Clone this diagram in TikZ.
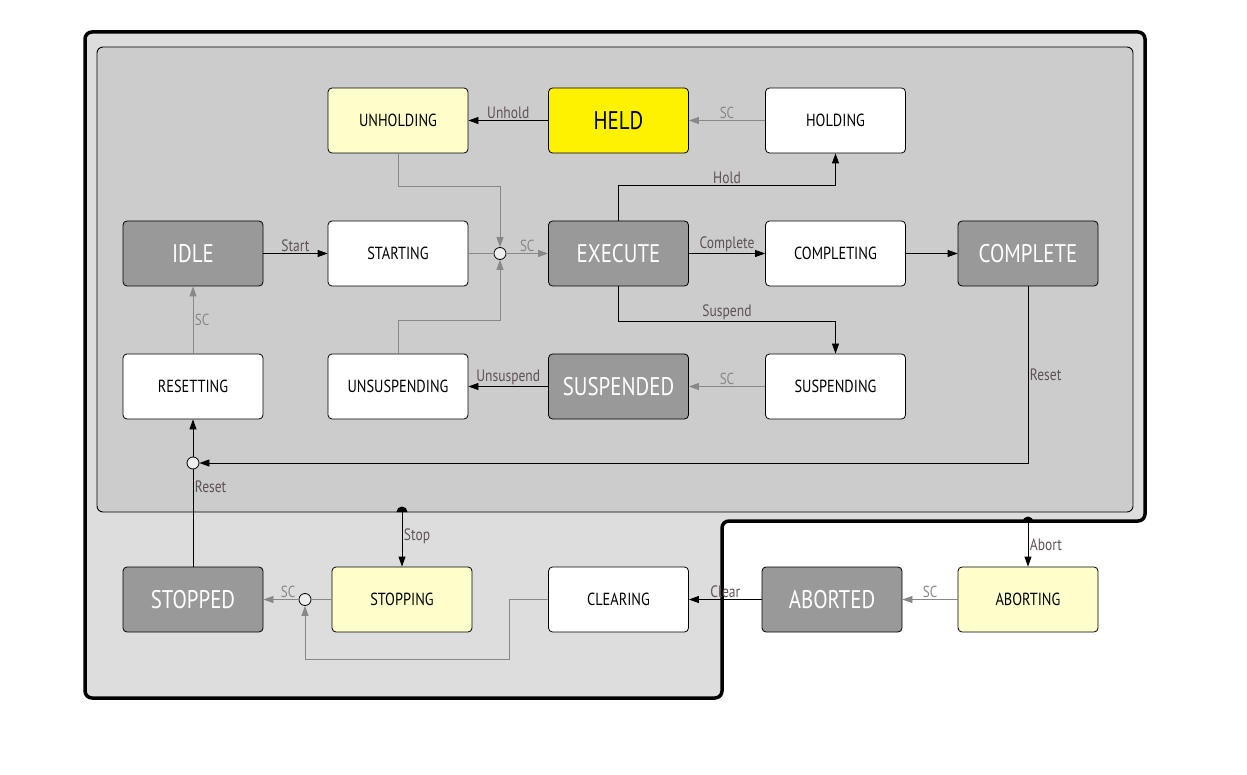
\documentclass[tikz,border=0pt]{standalone}
\usepackage{fontspec}
\setmainfont{PT Sans}[FakeStretch=0.82]
\usetikzlibrary{arrows.meta}
\definecolor{outerfill}{HTML}{DDDDDD}
\definecolor{innerfill}{HTML}{CCCCCC}
\definecolor{darkbox}{HTML}{999999}
\definecolor{lightyel}{HTML}{FFFFCC}
\definecolor{labcol}{HTML}{5E5256}
\definecolor{sccol}{HTML}{888888}
\definecolor{juncfill}{HTML}{EEEEEE}
\tikzset{
  st/.style={draw=black, line width=0.8pt, rounded corners=4pt, minimum width=140pt, minimum height=65pt, inner sep=0pt, font=\fontsize{17.5}{20}\selectfont},
  wst/.style={st, fill=white},
  yst/.style={st, fill=lightyel},
  gst/.style={st, fill=darkbox, text=white, font=\fontsize{25.5}{28}\selectfont},
  heldst/.style={st, fill=yellow, font=\fontsize{25.5}{28}\selectfont},
  junc/.style={circle, draw=black, line width=0.8pt, fill=juncfill, minimum size=12pt, inner sep=0pt},
  tip/.style={-{Triangle[length=10pt,width=7pt]}},
  blk/.style={draw=black, line width=0.8pt},
  gry/.style={draw=sccol, line width=0.8pt},
  lab/.style={font=\fontsize{16.5}{18}\selectfont, text=labcol, inner sep=1.5pt},
  sclab/.style={font=\fontsize{16}{18}\selectfont, text=sccol, inner sep=1.5pt}
}
\begin{document}
\begin{tikzpicture}[x=1pt,y=-1pt]
\useasboundingbox (0,0) rectangle (1247,775);
% outer region
\filldraw[fill=outerfill, draw=black, line width=3.5pt, rounded corners=7pt]
  (85,32) -- (1145,32) -- (1145,521) -- (722,521) -- (722,698) -- (85,698) -- cycle;
% inner region
\filldraw[fill=innerfill, draw=black, line width=0.9pt, rounded corners=6pt]
  (97,47) rectangle (1133,512);

% nodes
\node[yst] (unholding) at (398,120.5) {UNHOLDING};
\node[heldst] (held) at (618.5,120.5) {HELD};
\node[wst] (holding) at (835.5,120.5) {HOLDING};
\node[gst] (idle) at (193,253.5) {IDLE};
\node[wst] (starting) at (398,253.5) {STARTING};
\node[gst] (execute) at (618.5,253.5) {EXECUTE};
\node[wst] (completing) at (835.5,253.5) {COMPLETING};
\node[gst] (complete) at (1028,253.5) {COMPLETE};
\node[wst] (resetting) at (193,386.5) {RESETTING};
\node[wst] (unsuspending) at (398,386.5) {UNSUSPENDING};
\node[gst] (suspended) at (618.5,386.5) {SUSPENDED};
\node[wst] (suspending) at (835.5,386.5) {SUSPENDING};
\node[gst] (stopped) at (193,599.5) {STOPPED};
\node[yst] (stopping) at (402,599.5) {STOPPING};
\node[wst] (clearing) at (618.5,599.5) {CLEARING};
\node[gst] (aborted) at (832,599.5) {ABORTED};
\node[yst] (aborting) at (1028,599.5) {ABORTING};

\node[junc] (j1) at (500,253.5) {};
\node[junc] (j2) at (193,463) {};
\node[junc] (j3) at (305,599.5) {};

\coordinate (stopsrc) at (402,512);
\coordinate (abortsrc) at (1028,522);

% top row
\draw[blk,tip] (held) -- node[lab,above]{Unhold} (unholding);
\draw[gry,tip] (holding) -- node[sclab,above]{SC} (held);
% middle row
\draw[blk,tip] (idle) -- node[lab,above]{Start} (starting);
\draw[gry] (starting) -- (j1);
\draw[gry,tip] (j1) -- node[sclab,above]{SC} (execute);
\draw[gry,tip] (unholding.south) -- ++(0,33) -| (j1.north);
\draw[gry,tip] (unsuspending.north) -- ++(0,-33) -| (j1.south);
\draw[blk,tip] (execute.north) -- ++(0,-35) -| node[lab,above,pos=0.25]{Hold} (holding.south);
\draw[blk,tip] (execute) -- node[lab,above]{Complete} (completing);
\draw[blk,tip] (completing) -- (complete);
\draw[blk,tip] (execute.south) -- ++(0,35) -| node[lab,above,pos=0.25]{Suspend} (suspending.north);
% bottom row of inner
\draw[gry,tip] (suspending) -- node[sclab,above]{SC} (suspended);
\draw[blk,tip] (suspended) -- node[lab,above]{Unsuspend} (unsuspending);
\draw[gry,tip] (resetting) -- node[sclab,right]{SC} (idle);
\draw[blk,tip] (complete.south) |- node[lab,right,pos=0.25]{Reset} (j2.east);
\draw[blk] (stopped.north) -- node[lab,right,pos=0.82]{Reset} (j2.south);
\draw[blk,tip] (j2.north) -- (resetting.south);
% stop / abort
\fill[black] ([xshift=-5.5pt]stopsrc) arc (180:0:5.5pt) -- cycle;
\draw[blk,tip] (stopsrc) -- node[lab,right,pos=0.45]{Stop} (stopping.north);
\fill[black] ([xshift=-5.5pt]abortsrc) arc (180:0:5.5pt) -- cycle;
\draw[blk,tip] (abortsrc) -- node[lab,right,pos=0.5]{Abort} (aborting.north);
% lower row
\draw[gry,tip] (aborting) -- node[sclab,above]{SC} (aborted);
\draw[blk,tip] (aborted) -- node[lab,above]{Clear} (clearing);
\draw[gry] (stopping) -- (j3);
\draw[gry,tip] (j3) -- node[sclab,above,pos=0.3]{SC} (stopped);
\draw[gry,tip] (clearing.west) -- ++(-39,0) -- ++(0,60) -| (j3.south);
\end{tikzpicture}
\end{document}
